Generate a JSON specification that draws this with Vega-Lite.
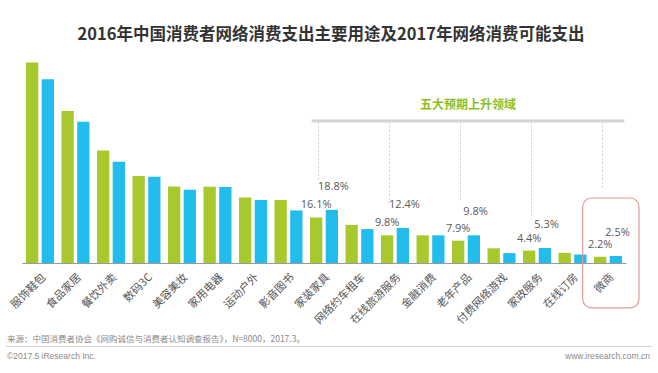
{
  "$schema": "https://vega.github.io/schema/vega-lite/v6.json",
  "autosize": {"type": "none"},
  "width": 604,
  "height": 212,
  "padding": {"left": 22, "top": 51, "right": 32, "bottom": 110},
  "background": "white",
  "title": {
    "text": "2016年中国消费者网络消费支出主要用途及2017年网络消费可能支出",
    "font": "Noto Sans CJK SC",
    "fontSize": 16.5,
    "fontWeight": "bold",
    "color": "#333333",
    "anchor": "middle",
    "frame": "group",
    "dx": 7,
    "offset": 8
  },
  "config": {"view": {"stroke": null}},
  "datasets": {
    "spend": [
      {"item": "服饰鞋包", "year": "2016", "pct": 0.709, "rising": false},
      {"item": "服饰鞋包", "year": "2017", "pct": 0.650, "rising": false},
      {"item": "食品家居", "year": "2016", "pct": 0.538, "rising": false},
      {"item": "食品家居", "year": "2017", "pct": 0.500, "rising": false},
      {"item": "餐饮外卖", "year": "2016", "pct": 0.398, "rising": false},
      {"item": "餐饮外卖", "year": "2017", "pct": 0.358, "rising": false},
      {"item": "数码3C", "year": "2016", "pct": 0.308, "rising": false},
      {"item": "数码3C", "year": "2017", "pct": 0.305, "rising": false},
      {"item": "美容美妆", "year": "2016", "pct": 0.271, "rising": false},
      {"item": "美容美妆", "year": "2017", "pct": 0.259, "rising": false},
      {"item": "家用电器", "year": "2016", "pct": 0.270, "rising": false},
      {"item": "家用电器", "year": "2017", "pct": 0.269, "rising": false},
      {"item": "运动户外", "year": "2016", "pct": 0.232, "rising": false},
      {"item": "运动户外", "year": "2017", "pct": 0.223, "rising": false},
      {"item": "影音图书", "year": "2016", "pct": 0.223, "rising": false},
      {"item": "影音图书", "year": "2017", "pct": 0.186, "rising": false},
      {"item": "家装家具", "year": "2016", "pct": 0.161, "rising": true},
      {"item": "家装家具", "year": "2017", "pct": 0.188, "rising": true},
      {"item": "网络约车租车", "year": "2016", "pct": 0.135, "rising": false},
      {"item": "网络约车租车", "year": "2017", "pct": 0.120, "rising": false},
      {"item": "在线旅游服务", "year": "2016", "pct": 0.098, "rising": true},
      {"item": "在线旅游服务", "year": "2017", "pct": 0.124, "rising": true},
      {"item": "金融消费", "year": "2016", "pct": 0.098, "rising": false},
      {"item": "金融消费", "year": "2017", "pct": 0.098, "rising": false},
      {"item": "老年产品", "year": "2016", "pct": 0.079, "rising": true},
      {"item": "老年产品", "year": "2017", "pct": 0.098, "rising": true},
      {"item": "付费网络游戏", "year": "2016", "pct": 0.052, "rising": false},
      {"item": "付费网络游戏", "year": "2017", "pct": 0.035, "rising": false},
      {"item": "家政服务", "year": "2016", "pct": 0.044, "rising": true},
      {"item": "家政服务", "year": "2017", "pct": 0.053, "rising": true},
      {"item": "在线订房", "year": "2016", "pct": 0.036, "rising": false},
      {"item": "在线订房", "year": "2017", "pct": 0.030, "rising": false},
      {"item": "微商", "year": "2016", "pct": 0.022, "rising": true},
      {"item": "微商", "year": "2017", "pct": 0.025, "rising": true}
    ],
    "guides": [
      {"item": "家装家具", "top": 0.5, "end": 0.29},
      {"item": "在线旅游服务", "top": 0.5, "end": 0.207},
      {"item": "老年产品", "top": 0.5, "end": 0.219},
      {"item": "家政服务", "top": 0.5, "end": 0.156},
      {"item": "微商", "top": 0.5, "end": 0.259}
    ]
  },
  "layer": [
    {
      "data": {"name": "spend"},
      "transform": [{"filter": "datum.year == '2016'"}],
      "mark": {"type": "bar", "width": 12.3, "xOffset": -7.85, "color": "#a8c92e"},
      "encoding": {
        "x": {
          "field": "item",
          "type": "nominal",
          "scale": {
            "domain": ["服饰鞋包", "食品家居", "餐饮外卖", "数码3C", "美容美妆", "家用电器", "运动户外", "影音图书", "家装家具", "网络约车租车", "在线旅游服务", "金融消费", "老年产品", "付费网络游戏", "家政服务", "在线订房", "微商"],
            "paddingInner": 0.2125,
            "paddingOuter": 0.1125
          },
          "axis": {
            "title": null,
            "labelAngle": -45,
            "labelFont": "Noto Sans CJK SC",
            "labelFontSize": 11,
            "labelColor": "#555555",
            "labelPadding": 8,
            "labelLimit": 0,
            "ticks": false,
            "domainColor": "#9a9a9a",
            "domainWidth": 1
          }
        },
        "y": {
          "field": "pct",
          "type": "quantitative",
          "scale": {"domain": [0, 0.75], "nice": false, "zero": true},
          "axis": null
        }
      }
    },
    {
      "data": {"name": "spend"},
      "transform": [{"filter": "datum.year == '2017'"}],
      "mark": {"type": "bar", "width": 12.3, "xOffset": 7.85, "color": "#22bdec"},
      "encoding": {
        "x": {"field": "item", "type": "nominal"},
        "y": {"field": "pct", "type": "quantitative"}
      }
    },
    {
      "data": {"name": "spend"},
      "transform": [{"filter": "datum.rising && datum.year == '2016'"}],
      "mark": {"type": "text", "font": "Open Sans", "fontSize": 11, "color": "#595959", "baseline": "middle", "dy": -12, "dx": -7.85},
      "encoding": {
        "x": {"field": "item", "type": "nominal"},
        "y": {"field": "pct", "type": "quantitative"},
        "text": {"field": "pct", "type": "quantitative", "format": ".1%"}
      }
    },
    {
      "data": {"name": "spend"},
      "transform": [{"filter": "datum.rising && datum.year == '2017'"}],
      "mark": {"type": "text", "font": "Open Sans", "fontSize": 11, "color": "#595959", "baseline": "middle", "dy": -23, "dx": 9.5},
      "encoding": {
        "x": {"field": "item", "type": "nominal"},
        "y": {"field": "pct", "type": "quantitative"},
        "text": {"field": "pct", "type": "quantitative", "format": ".1%"}
      }
    },
    {
      "data": {"name": "guides"},
      "mark": {"type": "rule", "color": "#cfcfcf", "strokeWidth": 1, "strokeDash": [2, 2], "xOffset": -5.5},
      "encoding": {
        "x": {"field": "item", "type": "nominal"},
        "y": {"field": "top", "type": "quantitative"},
        "y2": {"field": "end"}
      }
    },
    {
      "data": {"values": [{"from": "家装家具", "to": "微商", "level": 0.502}]},
      "mark": {"type": "rule", "color": "#d4d4d4", "strokeWidth": 3, "xOffset": -12.3, "x2Offset": 16.3},
      "encoding": {
        "x": {"field": "from", "type": "nominal"},
        "x2": {"field": "to"},
        "y": {"field": "level", "type": "quantitative"}
      }
    },
    {
      "data": {"values": [{"item": "老年产品", "level": 0.559}]},
      "mark": {"type": "text", "text": "五大预期上升领域", "font": "Noto Sans CJK SC", "fontSize": 12, "fontWeight": "bold", "color": "#8cbf26", "align": "center", "baseline": "middle", "dx": 2},
      "encoding": {
        "x": {"field": "item", "type": "nominal"},
        "y": {"field": "level", "type": "quantitative"}
      }
    },
    {
      "data": {"values": [{"item": "微商", "top": 0.23, "bottom": -0.159}]},
      "mark": {"type": "rect", "width": 56.3, "xOffset": 2.8, "fillOpacity": 0, "stroke": "#e09a9a", "strokeWidth": 1.2, "cornerRadius": 9},
      "encoding": {
        "x": {"field": "item", "type": "nominal"},
        "y": {"field": "top", "type": "quantitative"},
        "y2": {"field": "bottom"}
      }
    },
    {
      "data": {"values": [{"from": "服饰鞋包", "to": "微商", "level": -0.295}]},
      "mark": {"type": "rule", "color": "#d0d0d0", "strokeWidth": 1, "xOffset": -34, "x2Offset": 44},
      "encoding": {
        "x": {"field": "from", "type": "nominal"},
        "x2": {"field": "to"},
        "y": {"field": "level", "type": "quantitative"}
      }
    },
    {
      "data": {"values": [{"item": "服饰鞋包", "level": -0.268}]},
      "mark": {"type": "text", "text": "来源：中国消费者协会《网购诚信与消费者认知调查报告》，N=8000，2017.3。", "font": "Noto Sans CJK SC", "fontSize": 8.5, "color": "#8a8a8a", "align": "left", "baseline": "middle", "dx": -33},
      "encoding": {
        "x": {"field": "item", "type": "nominal"},
        "y": {"field": "level", "type": "quantitative"}
      }
    },
    {
      "data": {"values": [{"item": "服饰鞋包", "level": -0.33}]},
      "mark": {"type": "text", "text": "©2017.5 iResearch Inc.", "font": "Liberation Sans", "fontSize": 8.5, "color": "#8a8a8a", "align": "left", "baseline": "middle", "dx": -33},
      "encoding": {
        "x": {"field": "item", "type": "nominal"},
        "y": {"field": "level", "type": "quantitative"}
      }
    },
    {
      "data": {"values": [{"item": "微商", "level": -0.33}]},
      "mark": {"type": "text", "text": "www.iresearch.com.cn", "font": "Liberation Sans", "fontSize": 8.5, "color": "#8a8a8a", "align": "right", "baseline": "middle", "dx": 42},
      "encoding": {
        "x": {"field": "item", "type": "nominal"},
        "y": {"field": "level", "type": "quantitative"}
      }
    }
  ]
}
